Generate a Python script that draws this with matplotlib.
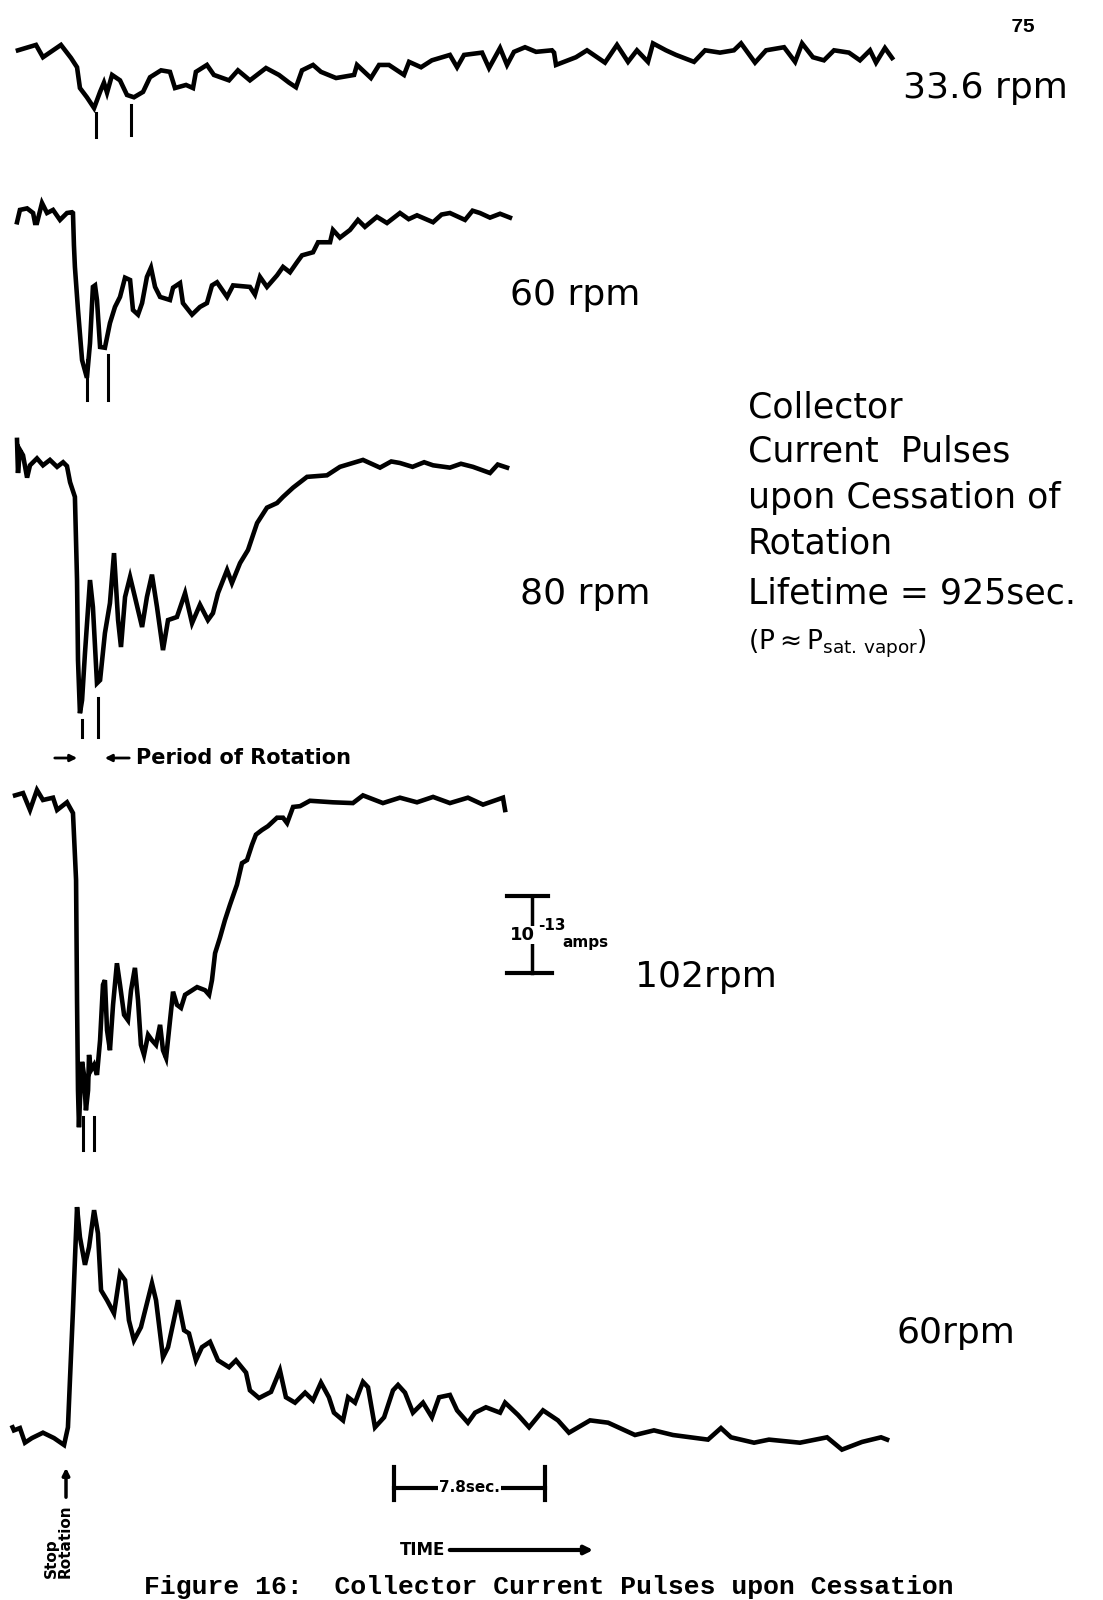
import matplotlib.pyplot as plt

# Collector current traces after rotation stops.
# time in s (t = 0 at "Stop Rotation"), current in units of 1e-13 A relative to the pre-stop level
trace_336 = [(-2.48, -0.03), (-1.55, 0.04), (-1.19, -0.12), (-0.26, 0.04), (0.26, -0.13), (0.57, -0.25),
             (0.72, -0.52), (1.08, -0.64), (1.45, -0.78), (1.76, -0.57), (1.96, -0.45), (2.12, -0.58),
             (2.38, -0.35), (2.79, -0.42), (3.15, -0.61), (3.51, -0.64), (3.98, -0.57), (4.34, -0.38),
             (4.91, -0.29), (5.37, -0.31), (5.63, -0.52), (6.20, -0.48), (6.56, -0.52), (6.71, -0.31),
             (7.28, -0.22), (7.64, -0.35), (8.42, -0.42), (8.88, -0.29), (9.50, -0.42), (10.33, -0.26),
             (11.00, -0.35), (11.52, -0.45), (11.88, -0.51), (12.19, -0.29), (12.76, -0.22), (13.17, -0.31),
             (13.95, -0.39), (14.88, -0.35), (15.03, -0.22), (15.75, -0.39), (16.17, -0.22), (16.68, -0.22),
             (17.46, -0.35), (17.72, -0.18), (18.34, -0.25), (18.90, -0.16), (19.83, -0.09), (20.20, -0.25),
             (20.56, -0.09), (21.49, -0.06), (21.85, -0.26), (22.42, 0.00), (22.78, -0.22), (23.14, -0.05),
             (23.71, 0.01), (24.28, -0.05), (25.10, -0.03), (25.21, -0.06), (25.31, -0.22), (26.34, -0.12),
             (26.91, -0.03), (27.84, -0.19), (28.46, 0.04), (29.03, -0.18), (29.49, -0.03), (30.06, -0.18),
             (30.32, 0.06), (30.99, -0.03), (31.51, -0.09), (32.44, -0.18), (33.01, -0.03), (33.78, -0.06),
             (34.50, -0.03), (34.87, 0.06), (35.59, -0.19), (36.16, -0.03), (37.09, 0.01), (37.66, -0.18),
             (38.02, 0.06), (38.58, -0.12), (39.15, -0.16), (39.67, -0.03), (40.44, -0.06), (41.01, -0.16),
             (41.53, -0.03), (41.84, -0.19), (42.30, 0.00), (42.67, -0.13)]

trace_60a = [(-2.53, -0.12), (-2.38, 0.04), (-2.01, 0.06), (-1.70, 0.00), (-1.60, -0.13), (-1.50, -0.13),
             (-1.24, 0.13), (-0.98, 0.00), (-0.67, 0.04), (-0.31, -0.09), (0.05, 0.00), (0.31, 0.01),
             (0.36, 0.00), (0.41, -0.42), (0.46, -0.70), (0.62, -1.26), (0.83, -1.91), (1.08, -2.14),
             (1.24, -1.69), (1.39, -0.96), (1.50, -0.94), (1.60, -1.13), (1.76, -1.74), (2.01, -1.75),
             (2.27, -1.43), (2.53, -1.22), (2.79, -1.09), (3.05, -0.84), (3.31, -0.87), (3.46, -1.26),
             (3.72, -1.32), (3.93, -1.17), (4.18, -0.83), (4.39, -0.71), (4.60, -0.96), (4.86, -1.09),
             (5.37, -1.13), (5.53, -0.97), (5.89, -0.91), (6.04, -1.17), (6.51, -1.32), (6.92, -1.22),
             (7.28, -1.17), (7.54, -0.94), (7.80, -0.90), (8.32, -1.09), (8.63, -0.94), (9.50, -0.96),
             (9.76, -1.06), (10.02, -0.83), (10.38, -0.96), (10.90, -0.81), (11.21, -0.70), (11.57, -0.77),
             (11.93, -0.64), (12.19, -0.55), (12.76, -0.51), (13.02, -0.38), (13.64, -0.38), (13.79, -0.22),
             (14.15, -0.32), (14.67, -0.22), (15.08, -0.09), (15.44, -0.18), (16.06, -0.05), (16.58, -0.13),
             (17.25, 0.00), (17.70, -0.08), (18.13, -0.03), (18.96, -0.12), (19.40, -0.02), (19.83, 0.00),
             (20.61, -0.09), (21.00, 0.03), (21.38, 0.00), (21.90, -0.06), (22.42, -0.01), (22.93, -0.06)]

trace_80 = [(-2.53, 0.30), (-2.48, -0.13), (-2.38, 0.17), (-2.22, 0.10), (-2.01, -0.19), (-1.86, -0.03),
            (-1.50, 0.06), (-1.19, -0.03), (-0.83, 0.04), (-0.46, -0.05), (-0.15, 0.01), (0.05, -0.04),
            (0.21, -0.25), (0.46, -0.44), (0.57, -1.52), (0.62, -2.56), (0.72, -3.25), (0.83, -3.08),
            (0.98, -2.47), (1.24, -1.52), (1.39, -1.87), (1.60, -2.86), (1.76, -2.82), (2.01, -2.21),
            (2.27, -1.82), (2.48, -1.17), (2.69, -2.04), (2.84, -2.39), (3.05, -1.74), (3.31, -1.48),
            (3.56, -1.74), (3.93, -2.13), (4.18, -1.74), (4.44, -1.45), (4.70, -1.87), (5.01, -2.43),
            (5.27, -2.04), (5.73, -2.00), (6.15, -1.69), (6.51, -2.08), (6.92, -1.84), (7.33, -2.04),
            (7.59, -1.95), (7.85, -1.69), (8.32, -1.39), (8.57, -1.56), (8.99, -1.30), (9.40, -1.13),
            (9.87, -0.78), (10.38, -0.58), (10.90, -0.52), (11.21, -0.44), (11.73, -0.32), (12.45, -0.18),
            (13.48, -0.16), (14.15, -0.05), (15.34, 0.04), (16.22, -0.06), (16.80, 0.02), (17.25, 0.00),
            (17.90, -0.05), (18.50, 0.01), (18.96, -0.03), (19.83, -0.06), (20.40, -0.01), (21.02, -0.05),
            (21.90, -0.13), (22.30, -0.02), (22.78, -0.06)]

trace_102 = [(-2.63, 0.06), (-2.22, 0.09), (-1.86, -0.13), (-1.50, 0.13), (-1.19, 0.00), (-0.67, 0.03),
             (-0.46, -0.13), (0.05, -0.03), (0.36, -0.17), (0.52, -1.04), (0.57, -2.60), (0.62, -3.77),
             (0.67, -4.25), (0.72, -3.90), (0.83, -3.40), (0.93, -3.57), (1.03, -4.03), (1.14, -3.77),
             (1.19, -3.31), (1.29, -3.51), (1.45, -3.44), (1.60, -3.57), (1.76, -3.12), (1.91, -2.40),
             (2.01, -2.34), (2.12, -2.99), (2.27, -3.25), (2.43, -2.66), (2.63, -2.12), (2.79, -2.40),
             (3.00, -2.79), (3.20, -2.86), (3.36, -2.47), (3.56, -2.18), (3.72, -2.60), (3.87, -3.18),
             (4.03, -3.31), (4.24, -3.05), (4.44, -3.12), (4.65, -3.18), (4.86, -2.92), (5.01, -3.25),
             (5.17, -3.35), (5.32, -2.99), (5.53, -2.49), (5.73, -2.66), (5.94, -2.70), (6.15, -2.53),
             (6.40, -2.49), (6.77, -2.43), (7.18, -2.47), (7.39, -2.53), (7.54, -2.34), (7.70, -1.99),
             (7.95, -1.79), (8.21, -1.56), (8.47, -1.36), (8.83, -1.10), (9.09, -0.82), (9.35, -0.78),
             (9.61, -0.58), (9.81, -0.45), (10.12, -0.39), (10.43, -0.34), (10.90, -0.23), (11.21, -0.23),
             (11.42, -0.30), (11.73, -0.09), (12.09, -0.08), (12.60, -0.01), (13.79, -0.03), (14.82, -0.04),
             (15.34, 0.06), (16.37, -0.04), (17.25, 0.03), (18.13, -0.03), (18.96, 0.04), (19.83, -0.04),
             (20.76, 0.03), (21.54, -0.06), (22.57, 0.03), (22.68, -0.13)]

trace_60b = [(-2.76, 0.10), (-2.69, 0.06), (-2.38, 0.09), (-2.12, -0.10), (-1.76, -0.04), (-1.19, 0.03),
             (-0.62, -0.04), (-0.10, -0.13), (0.10, 0.10), (0.21, 0.75), (0.36, 1.62), (0.46, 2.27),
             (0.57, 2.96), (0.72, 2.57), (0.98, 2.21), (1.19, 2.44), (1.45, 2.92), (1.65, 2.62),
             (1.81, 1.88), (2.12, 1.75), (2.48, 1.58), (2.79, 2.10), (3.05, 2.01), (3.25, 1.49),
             (3.51, 1.23), (3.87, 1.40), (4.13, 1.66), (4.44, 1.97), (4.65, 1.75), (5.01, 1.01),
             (5.27, 1.14), (5.79, 1.75), (6.10, 1.36), (6.35, 1.32), (6.71, 0.97), (7.02, 1.14),
             (7.44, 1.21), (7.85, 0.97), (8.42, 0.88), (8.78, 0.97), (9.30, 0.81), (9.50, 0.58),
             (9.97, 0.48), (10.59, 0.56), (11.05, 0.84), (11.36, 0.49), (11.83, 0.42), (12.35, 0.55),
             (12.76, 0.45), (13.17, 0.68), (13.58, 0.49), (13.84, 0.29), (14.31, 0.19), (14.57, 0.49),
             (14.93, 0.42), (15.34, 0.69), (15.60, 0.62), (15.96, 0.10), (16.43, 0.23), (16.89, 0.58),
             (17.15, 0.65), (17.51, 0.55), (17.92, 0.29), (18.44, 0.42), (18.90, 0.23), (19.27, 0.49),
             (19.83, 0.52), (20.20, 0.32), (20.76, 0.16), (21.13, 0.29), (21.69, 0.36), (22.42, 0.29),
             (22.68, 0.42), (23.35, 0.26), (23.92, 0.10), (24.64, 0.32), (25.41, 0.19), (25.98, 0.03),
             (27.07, 0.19), (28.00, 0.16), (29.39, 0.00), (30.37, 0.06), (31.35, 0.00), (33.16, -0.06),
             (33.83, 0.09), (34.35, -0.03), (35.54, -0.10), (36.31, -0.06), (37.91, -0.10), (39.31, -0.03),
             (40.08, -0.19), (41.12, -0.09), (42.10, -0.03), (42.41, -0.06)]

# period markers under the first dips: (time, top, bottom)
ticks_336 = [(1.55, -0.84, -1.16), (3.36, -0.74, -1.13)]
ticks_60a = [(1.08, -1.91, -2.43), (2.17, -1.84, -2.43)]
ticks_80 = [(0.83, -3.34, -3.56), (1.65, -3.05, -3.56)]
ticks_102 = [(0.88, -4.12, -4.55), (1.45, -4.12, -4.55)]

labels = ['33.6 rpm', '60 rpm', '80 rpm', '102rpm', '60rpm']
scale_time = 7.8      # s
scale_current = 1.0   # 1e-13 A

# page layout (pixels)
W, H = 1103, 1600
X0 = 66            # column of "Stop Rotation"
PX_PER_S = 19.36
PX_PER_UNIT = 77


def dx(px):
    return (px - X0) / PX_PER_S


def dy(py):
    return -py / PX_PER_UNIT


fig = plt.figure(figsize=(W / 100, H / 100), dpi=100)
ax = fig.add_axes([0, 0, 1, 1])
ax.set_xlim(dx(0), dx(W))
ax.set_ylim(dy(H), dy(0))
ax.axis('off')

traces = [trace_336, trace_60a, trace_80, trace_102, trace_60b]
ticks = [ticks_336, ticks_60a, ticks_80, ticks_102, []]
base_rows = [48, 213, 463, 800, 1435]
label_pos = [(903, 98), (510, 305), (520, 604), (635, 987), (896, 1343)]

for tr, tk, row, lab, (lx, ly) in zip(traces, ticks, base_rows, labels, label_pos):
    t = [p[0] for p in tr]
    cur = [p[1] + dy(row) for p in tr]
    ax.plot(t, cur, color='black', lw=3.3, solid_joinstyle='miter')
    for tt, top, bot in tk:
        ax.plot([tt, tt], [top + dy(row), bot + dy(row)], color='black', lw=2.2)
    ax.text(dx(lx), dy(ly), lab, fontsize=26, ha='left', va='baseline')

# page number
ax.text(dx(1023), dy(27), '75', family='Liberation Mono', weight='bold', fontsize=15,
        ha='center', va='center')

# description block
desc = ['Collector', 'Current  Pulses', 'upon Cessation of', 'Rotation', 'Lifetime = 925sec.']
desc_rows = [417, 462, 508, 554, 604]
for s, r in zip(desc, desc_rows):
    ax.text(dx(748), dy(r), s, fontsize=25, ha='left', va='baseline')
ax.text(dx(748), dy(650), r'(P$\approx$P$_{\mathregular{sat.\,vapor}}$)', fontsize=19,
        ha='left', va='baseline')

# period of rotation
yp = dy(758)
ax.annotate('', xy=(dx(80), yp), xytext=(dx(52), yp),
            arrowprops=dict(arrowstyle='-|>', lw=2, color='black', mutation_scale=10))
ax.annotate('', xy=(dx(102), yp), xytext=(dx(132), yp),
            arrowprops=dict(arrowstyle='-|>', lw=2, color='black', mutation_scale=10))
ax.text(dx(136), yp, 'Period of Rotation', fontsize=15, weight='bold', ha='left', va='center')

# current scale bar
xs = dx(532)
ytop = dy(896)
ax.plot([xs, xs], [ytop, ytop - scale_current], color='black', lw=2.5)
ax.plot([dx(507), dx(548)], [ytop, ytop], color='black', lw=3)
ax.plot([dx(507), dx(552)], [ytop - scale_current, ytop - scale_current], color='black', lw=3)
ax.text(dx(522), dy(935), '10', fontsize=13, weight='bold', ha='center', va='center',
        bbox=dict(facecolor='white', edgecolor='none', pad=0))
ax.text(dx(552), dy(925), '-13', fontsize=11, weight='bold', ha='center', va='center')
ax.text(dx(562), dy(942), 'amps', fontsize=11, weight='bold', ha='left', va='center')

# time scale bar
t0 = dx(394)
yb = dy(1488)
ax.plot([t0, t0 + scale_time], [yb, yb], color='black', lw=3)
for tt in (t0, t0 + scale_time):
    ax.plot([tt, tt], [dy(1467), dy(1500)], color='black', lw=3)
ax.text(t0 + scale_time / 2, yb, '7.8sec.', fontsize=11, weight='bold', ha='center', va='center',
        bbox=dict(facecolor='white', edgecolor='none', pad=1))

# time arrow
ax.annotate('', xy=(dx(596), dy(1550)), xytext=(dx(447), dy(1550)),
            arrowprops=dict(arrowstyle='-|>', lw=3, color='black', mutation_scale=12))
ax.text(dx(445), dy(1550), 'TIME', fontsize=12, weight='bold', ha='right', va='center')

# stop rotation marker
ax.annotate('', xy=(0, dy(1465)), xytext=(0, dy(1500)),
            arrowprops=dict(arrowstyle='-|>', lw=2.5, color='black', mutation_scale=10))
ax.text(dx(58), dy(1578), 'Stop\nRotation', fontsize=11, weight='bold', rotation=90,
        ha='center', va='bottom', multialignment='left', linespacing=0.9)

# caption
ax.text(dx(144), dy(1594), 'Figure 16:  Collector Current Pulses upon Cessation',
        family='Liberation Mono', weight='bold', fontsize=19, ha='left', va='baseline')

fig.savefig('out.png', dpi=100, facecolor='white')
